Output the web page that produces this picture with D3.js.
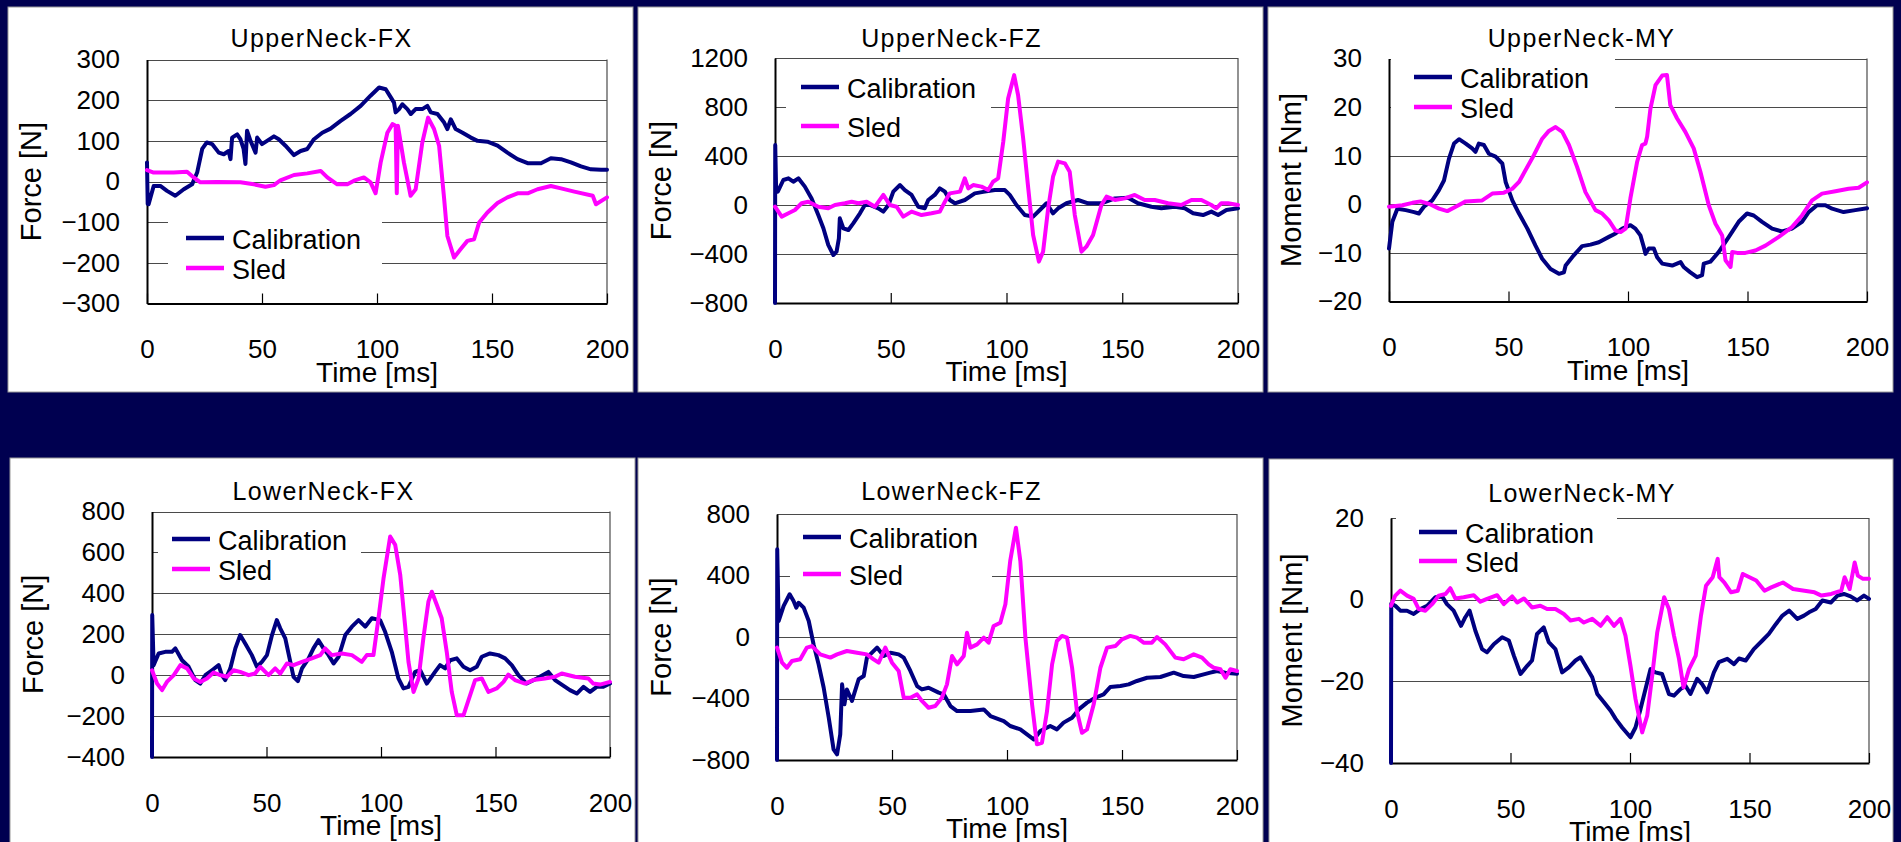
<!DOCTYPE html>
<html>
<head>
<meta charset="utf-8">
<script src="https://cdn.jsdelivr.net/npm/d3@7"></script>
<style>
  body { margin: 0; background: #000050; overflow: hidden; }
  svg { display: block; }
  text { font-family: "Liberation Sans", Arial, sans-serif; fill: #000; }
</style>
</head>
<body>
<svg id="chart" width="1901" height="842"></svg>
<script>
// ---------------------------------------------------------------------------
// data : [time ms, value]
// ---------------------------------------------------------------------------

var timeTicks = [0, 50, 100, 150, 200];
var seriesNames = ["Calibration", "Sled"];

var upperFxTicks = [-300, -200, -100, 0, 100, 200, 300];
var upperFzTicks = [-800, -400, 0, 400, 800, 1200];
var upperMyTicks = [-20, -10, 0, 10, 20, 30];
var lowerFxTicks = [-400, -200, 0, 200, 400, 600, 800];
var lowerFzTicks = [-800, -400, 0, 400, 800];
var lowerMyTicks = [-40, -20, 0, 20];

var upperFxCal = [[0,47],[0.3,-55],[0.7,-56],[2.9,-11],[5.8,-11],[8.7,-23],[12.3,-35],[16,-19],[19.6,-7],[21.8,22],[24,80],[26,96],[28.3,92],[31.2,71],[33.4,67],[35.5,75],[36.3,55],[37,108],[39.2,116],[40.6,104],[42,80],[42.8,43],[43.5,125],[45,100],[47.2,71],[47.9,108],[50,92],[52.2,100],[55.2,111],[57.3,104],[60.2,88],[63.9,65],[66.8,75],[69.7,80],[72.6,104],[76.2,120],[79.8,130],[84.2,149],[88.5,166],[92.9,186],[97.2,211],[100.9,231],[103.8,227],[106,207],[107.4,194],[108.1,170],[109.6,178],[111,190],[113.2,178],[114.7,166],[116.8,178],[119.7,178],[121.9,186],[123.4,170],[126.3,166],[129.2,145],[130.6,129],[132.1,153],[134.2,129],[137.2,120],[140.8,108],[143.7,100],[148,98],[152.4,88],[156.7,71],[161.1,55],[165.5,45],[171.3,45],[175.6,57],[180,55],[184.3,47],[188.7,37],[193,30],[197.4,29],[200,29]];
var upperFxSled = [[0,28],[2.9,22],[11.6,22],[17.4,24],[20.3,10],[23.2,-2],[30.5,-1],[40.6,-2],[46.4,-7],[51.5,-13],[55.2,-9],[58,3],[63.9,16],[69.7,20],[75.5,26],[78.4,10],[82.7,-7],[87.1,-7],[90,2],[94.3,10],[97.2,-2],[99.4,-29],[101.6,47],[104.5,120],[106.7,141],[108.1,137],[108.6,-29],[109.1,137],[111.7,47],[114.6,-35],[116.8,-19],[119.7,96],[122.2,157],[124.8,129],[127,88],[129.2,-43],[130.6,-134],[133.5,-187],[136.4,-166],[139.3,-146],[142.2,-142],[144.4,-101],[148,-76],[152.4,-53],[156.7,-39],[161.1,-29],[165.5,-29],[169.8,-19],[175.6,-11],[180,-17],[185.8,-25],[193.8,-35],[195.2,-56],[200,-39]];

var upperFzCal = [[0,-800],[0.1,490],[0.5,110],[1.2,109],[3.6,204],[5.8,218],[7.9,190],[10.1,218],[12.9,150],[15.8,54],[18.7,-82],[20.9,-190],[23,-326],[25.2,-408],[26.6,-381],[27.6,-272],[28,-109],[29.5,-190],[31.7,-204],[33.8,-150],[36.7,-68],[38.8,0],[41,0],[44.6,-27],[46.8,-54],[49,0],[51.1,109],[54,163],[56.1,122],[59,82],[61.9,-14],[64.7,-27],[66.2,41],[69,82],[71.2,136],[73.4,109],[75.5,41],[77.7,14],[82,41],[86.3,95],[90.6,109],[95,122],[99.3,122],[101.4,82],[104.3,0],[107.9,-82],[111.5,-95],[114.4,-41],[117.3,14],[120.1,-68],[122.3,-27],[125.9,14],[130.9,41],[135.3,14],[141,14],[146.8,54],[152.5,60],[156.8,14],[162.6,-14],[166.9,-27],[172.7,-14],[177,-27],[180.6,-68],[184.9,-82],[188.5,-54],[191.4,-82],[195,-41],[200,-27]];
var upperFzSled = [[0,-14],[2.9,-95],[5.8,-68],[8.6,-41],[11.5,14],[14.4,27],[18.7,-14],[23,-27],[25.9,0],[30.2,14],[33.1,27],[36,14],[39.6,27],[43.2,-14],[46.8,82],[49.6,0],[52.5,-14],[55.4,-95],[59,-54],[63.3,-82],[67.6,-68],[71.2,-54],[73.4,27],[75.5,95],[79.9,109],[82,218],[83.5,136],[85.6,163],[89.2,150],[92.1,122],[94.2,190],[96.4,218],[98.6,517],[100.7,870],[103.3,1060],[105,898],[107.2,544],[109.4,136],[111.5,-245],[114,-462],[115.8,-381],[118,-27],[120.1,231],[122.3,354],[125.2,340],[127.3,272],[129.5,-82],[132.4,-381],[134.5,-340],[137.4,-245],[141,0],[143.2,68],[146.8,41],[151.1,54],[155.4,82],[159.7,41],[164,41],[169.8,14],[175.5,0],[179.9,41],[184.2,41],[188.5,0],[190.6,-27],[192.8,14],[195.7,14],[200,0]];

var upperMyCal = [[0,-9.1],[1.4,-3.6],[3.5,-0.9],[7,-1.2],[10.5,-1.6],[12.5,-1.9],[14.6,-0.5],[18.1,0.8],[20.9,2.9],[23,4.9],[25.1,9.4],[27.2,12.5],[29.3,13.4],[32.1,12.5],[34.8,11.5],[36.2,10.8],[37.6,12.5],[39.7,12.2],[41.8,10.4],[44.6,9.8],[47.4,8.4],[48.8,4.6],[51.6,0.8],[54.4,-1.9],[57.9,-5],[61.3,-8.5],[64.1,-11.2],[67.6,-13.3],[71.1,-14.3],[73.2,-14],[73.9,-12.6],[77.3,-10.5],[80.8,-8.6],[84.3,-8.3],[87.8,-7.8],[92,-6.7],[94.8,-6],[97.6,-5],[101,-4.3],[103.1,-5],[105.2,-6.4],[106.6,-8.8],[107.3,-10.2],[108.7,-9.1],[110.8,-9.1],[112.2,-10.9],[114.3,-12.2],[118.5,-12.6],[122,-11.9],[123.3,-12.9],[126.1,-14],[128.9,-15],[131,-14.6],[131.7,-12.2],[134.5,-11.8],[138,-9.8],[142.2,-6.7],[146.3,-3.6],[149.8,-1.9],[152.6,-2.3],[156.1,-3.6],[160.3,-5],[164.5,-5.6],[168.6,-5],[172.8,-3.6],[175.6,-1.6],[179.1,-0.2],[182.6,-0.2],[185.4,-0.9],[190.2,-1.6],[195.1,-1.2],[200,-0.8]];
var upperMySled = [[0,-0.5],[5.6,-0.2],[9.8,0.3],[13.2,0.6],[16.7,0.1],[20.9,-0.9],[24.4,-1.4],[27.9,-0.5],[32.1,0.6],[39,0.8],[43.2,2.2],[48.1,2.4],[51.6,3.2],[54.4,4.6],[57.1,7],[60.6,10.1],[64.1,13.5],[66.9,15.1],[69.7,15.9],[72.5,14.9],[75.3,12.2],[78.7,7.7],[82.2,2.5],[86.4,-1.2],[89.2,-1.9],[92,-3.3],[94.8,-5.4],[96.9,-5.7],[99,-5],[101,1.2],[103.8,8.7],[105.9,12.2],[107.3,12.5],[108,13.9],[109.4,19.7],[111.5,24.5],[114.3,26.5],[116.3,26.6],[117.7,20.4],[120.5,17.7],[124,14.9],[127.5,11.5],[130.3,6.7],[133.8,-0.2],[136.6,-4],[139.4,-6.4],[140.8,-11.5],[142.9,-12.9],[143.6,-9.8],[145.7,-10],[149.1,-10],[153.3,-9.5],[157.5,-8.5],[163.1,-6.7],[168.6,-4.7],[172.8,-2.3],[177,0.8],[181.2,2.2],[186.8,2.7],[192.3,3.2],[196.5,3.4],[200,4.5]];

var lowerFxCal = [[0,-400],[0.1,294],[0.7,49],[2.9,106],[5.8,114],[8.7,114],[10.2,131],[13.1,73],[16,41],[18.9,-24],[21.1,-41],[23.3,0],[26.2,24],[29.1,49],[30.5,0],[32,-24],[34.2,33],[36.4,131],[38.5,196],[40.7,155],[43.6,98],[45.8,41],[48,65],[50.2,98],[52.4,196],[54.5,269],[56,229],[58.2,180],[60.4,65],[61.8,-8],[63.7,-29],[65.5,33],[68.4,82],[70.5,131],[72.7,171],[74.9,131],[77.1,98],[79.3,57],[81.5,90],[84.4,196],[87.3,237],[90.2,269],[93.1,237],[96,278],[99.6,269],[101.8,212],[104.7,114],[107.6,-16],[109.8,-65],[112,-57],[114.9,16],[117.1,24],[120,-41],[123.6,16],[125.8,49],[128,33],[130.2,73],[133.1,82],[136,41],[138.9,24],[141.8,41],[144,90],[147.6,106],[151.3,98],[154.2,82],[157.1,49],[160,0],[163.6,-41],[168,-16],[173.1,16],[176,-24],[180.4,-57],[182.5,-73],[185.5,-90],[188.4,-57],[191.3,-82],[194.2,-57],[197.1,-57],[200,-41]];
var lowerFxSled = [[0,24],[2.2,-41],[4.4,-73],[6.5,-33],[9.5,0],[12.4,49],[15.3,33],[18.2,-16],[21.1,-33],[24,-16],[26.9,13],[29.8,0],[32.7,-8],[35.6,24],[38.5,16],[42.2,0],[45,8],[47.3,41],[50.9,0],[53.8,33],[56,8],[58.9,57],[61.8,49],[65.5,65],[69.8,82],[73.5,98],[75.6,131],[78.5,98],[82.9,106],[87.3,98],[91.6,65],[93.8,98],[96.7,98],[98.9,278],[101.1,473],[104,678],[106.2,637],[108.4,490],[110.5,245],[112,65],[114.2,-82],[116.4,-16],[118.5,180],[120.7,359],[122.2,408],[124.4,343],[126.5,278],[128.7,114],[130.9,-82],[133.1,-196],[136,-196],[138.2,-122],[141.1,-24],[144,-16],[146.9,-82],[150.5,-65],[153.5,-33],[155.6,3],[158.5,-24],[162.9,-41],[166.5,-24],[171.6,-16],[176,-8],[178.9,8],[184.7,-8],[190.5,-16],[192.7,-41],[195.6,-46],[200,-33]];

var lowerFzCal = [[0,-800],[0.1,570],[0.7,104],[2.9,202],[5.5,278],[7.2,234],[8.4,191],[9.4,223],[11.6,191],[13.8,104],[15.9,-48],[18.1,-178],[20.3,-330],[22.5,-525],[24.6,-731],[26.1,-764],[27.5,-633],[28.3,-308],[29.3,-438],[30.4,-341],[32.6,-416],[35.5,-275],[37.7,-254],[39.1,-134],[41.3,-102],[43.5,-69],[46.4,-124],[49.3,-102],[52.9,-113],[55.1,-134],[58,-221],[60.9,-319],[63,-341],[65.9,-330],[70.3,-362],[72.5,-373],[75.4,-449],[78.3,-482],[84.1,-482],[89.9,-471],[92.8,-514],[98.6,-547],[101.4,-579],[105.8,-601],[108.7,-633],[111.6,-666],[114.5,-612],[118.8,-579],[121.7,-601],[124.6,-557],[128.3,-525],[131.2,-471],[134.8,-427],[138.4,-395],[142,-373],[144.9,-325],[149.3,-319],[152.9,-308],[156.5,-286],[160.9,-265],[166.7,-260],[172.5,-232],[176.8,-254],[181.2,-260],[185.5,-243],[188.4,-232],[191.3,-221],[194.9,-232],[200,-239]];
var lowerFzSled = [[0,-69],[2.2,-167],[4.3,-200],[6.5,-156],[10.1,-145],[13,-69],[15.2,-59],[18.8,-113],[23.2,-134],[26.1,-113],[30.4,-91],[34.8,-102],[39.1,-113],[42,-145],[44.2,-167],[47.1,-69],[50,-167],[52.9,-221],[55.1,-395],[58,-395],[60.9,-373],[63,-416],[65.9,-460],[68.8,-449],[71.7,-395],[73.9,-308],[76.1,-124],[78.3,-178],[81.2,-124],[82.6,28],[84.1,-69],[87,-48],[89.9,-4],[92,-37],[94.2,72],[97.1,93],[99.3,213],[101.4,495],[103.9,711],[105.8,495],[108,-4],[110.9,-438],[113,-698],[115.2,-688],[117.4,-482],[119.6,-178],[121.7,-26],[123.9,7],[126.1,-4],[128.3,-200],[130.4,-482],[132.6,-623],[134.8,-601],[137.7,-438],[140.6,-200],[143.5,-69],[147.1,-59],[150,-15],[153.6,7],[156.5,-4],[159.4,-37],[163,-37],[165.2,0],[168.8,-48],[173.2,-134],[176.8,-145],[181.2,-113],[184.8,-134],[187.7,-178],[189.9,-200],[192.8,-210],[195,-265],[197.1,-210],[200,-221]];

var lowerMyCal = [[0,-40],[0.1,-1],[1.8,-1.5],[3.9,-2.7],[6.7,-2.7],[9.5,-3.5],[12.3,-2.3],[15.1,-1.5],[18.6,0.6],[21.4,0.8],[23.4,-1.1],[26.2,-2.7],[29.3,-6.4],[31.1,-4.3],[32.9,-2.7],[35.3,-7.6],[38.1,-12.1],[40.2,-12.9],[43,-10.9],[46.5,-9.2],[49.3,-10],[51.4,-13.7],[54.2,-18.2],[57,-16.2],[59,-14.9],[61.1,-8.4],[63.9,-6.8],[66,-10.4],[68.8,-12.1],[71.6,-17.8],[74.4,-16.6],[77.2,-14.9],[79.3,-14.1],[81.4,-16.2],[84.2,-19],[86.3,-23.1],[89.1,-25.1],[91.9,-27.2],[94,-29.2],[96.7,-31.3],[100.2,-33.7],[102.3,-31.3],[104.4,-26.8],[107.2,-20.2],[108.6,-17],[110.6,-17.8],[113.4,-18.2],[116.3,-23.1],[118.4,-23.5],[121.1,-21.9],[123.2,-21.1],[125.3,-23.1],[128.1,-19.4],[130.2,-20.7],[132.3,-22.7],[135.1,-17.8],[137.2,-15.3],[140.7,-14.5],[143.5,-15.8],[145.6,-14.4],[148.4,-14.9],[151.8,-12.1],[155.4,-10],[158.1,-8.4],[161,-6],[163.8,-3.9],[166.6,-2.7],[170,-4.7],[172.8,-3.9],[174.9,-3.1],[177.7,-2.3],[180.5,-0.2],[184,-0.7],[186.8,1],[189.5,1.4],[192.3,0.8],[195.1,-0.2],[197.9,1],[200,0.2]];
var lowerMySled = [[0,-1.5],[1.8,1],[3.9,2.2],[6.7,1],[9.5,0.2],[11.6,-2.3],[14.4,-2.7],[17.2,-1.1],[20,1],[22.8,1.4],[24.8,2.8],[26.9,0.3],[30.4,0.6],[34.6,1.1],[37.4,-0.5],[40.2,0.2],[44.4,1.1],[47.2,-1.1],[50.7,0.8],[52.8,-0.7],[55.6,0.3],[59,-1.9],[62.5,-1.5],[65.3,-2.3],[68.8,-2.3],[72.3,-3.5],[75.1,-5.1],[78.6,-4.7],[80.7,-5.6],[84.2,-4.7],[87.7,-6.4],[90.5,-4.3],[93.3,-6.4],[96,-4.7],[98.1,-8.8],[100.2,-16.2],[102.3,-24.3],[105.1,-32.5],[107.2,-28.4],[109.3,-18.6],[111.4,-8],[114.3,0.6],[116.3,-2.3],[118.4,-8.8],[120.5,-14.5],[122.4,-21.5],[124.7,-17],[127.5,-13.7],[129.7,-3.9],[131.8,3.4],[134.6,5.5],[136.7,10],[137.4,5.5],[139.5,4.2],[142.3,1.8],[145.1,2.2],[147.2,6.3],[150,5.5],[152.8,4.7],[156.3,2.2],[159.1,3],[164,4.2],[168.2,2.6],[173,2.2],[177.2,1.8],[180.1,1],[184.2,1.4],[188.4,2.2],[189.8,5.5],[191.9,2.6],[194,9.1],[195.3,5.9],[197.5,5.1],[200,5.1]];

// ---------------------------------------------------------------------------
// panel layout
// ---------------------------------------------------------------------------

var colors = { cal: "#000080", sled: "#ff00ff" };

var panels = [
  { title: "UpperNeck-FX", yLabel: "Force [N]",   ticks: upperFxTicks, cal: upperFxCal, sled: upperFxSled,
    frame: [8, 7, 625, 385],   plot: [147, 59.5, 607, 303.5],  titleY: 47,
    legend: { box: [168, 212, 214, 80], x: 186, rows: [238, 268] } },
  { title: "UpperNeck-FZ", yLabel: "Force [N]",   ticks: upperFzTicks, cal: upperFzCal, sled: upperFzSled,
    frame: [638, 7, 625, 385], plot: [775, 58, 1238, 303],     titleY: 47,
    legend: { box: [786, 66, 205, 84], x: 801, rows: [87, 126] } },
  { title: "UpperNeck-MY", yLabel: "Moment [Nm]", ticks: upperMyTicks, cal: upperMyCal, sled: upperMySled,
    frame: [1268, 7, 625, 385], plot: [1389, 58.5, 1867, 301.5], titleY: 47,
    legend: { box: [1391, 50, 224, 72], x: 1414, rows: [77, 107] } },
  { title: "LowerNeck-FX", yLabel: "Force [N]",   ticks: lowerFxTicks, cal: lowerFxCal, sled: lowerFxSled,
    frame: [10, 458, 625, 400], plot: [152, 511.5, 610, 757],  titleY: 500,
    legend: { box: [158, 520, 203, 70], x: 172, rows: [539, 569] } },
  { title: "LowerNeck-FZ", yLabel: "Force [N]",   ticks: lowerFzTicks, cal: lowerFzCal, sled: lowerFzSled,
    frame: [638, 458, 625, 400], plot: [777, 514, 1237, 760],  titleY: 500,
    legend: { box: [790, 520, 202, 71], x: 803, rows: [537, 574] } },
  { title: "LowerNeck-MY", yLabel: "Moment [Nm]", ticks: lowerMyTicks, cal: lowerMyCal, sled: lowerMySled,
    frame: [1269, 459, 624, 400], plot: [1391, 518, 1869, 763], titleY: 502,
    legend: { box: [1396, 510, 221, 74], x: 1419, rows: [532, 561] } }
];

var svg = d3.select("#chart");

function drawPanel(p, i) {
  var g = svg.append("g").attr("class", "panel");
  var left = p.plot[0], top = p.plot[1], right = p.plot[2], bottom = p.plot[3];

  // white frame
  g.append("rect")
    .attr("x", p.frame[0]).attr("y", p.frame[1])
    .attr("width", p.frame[2]).attr("height", p.frame[3])
    .attr("fill", "#fff")
    .attr("stroke", "#9a9a9a")
    .attr("stroke-width", 1);

  var x = d3.scaleLinear().domain([0, 200]).range([left, right]);
  var y = d3.scaleLinear().domain(d3.extent(p.ticks)).range([bottom, top]);

  // gridlines
  g.append("g").selectAll("line")
    .data(p.ticks.slice(1))
    .enter().append("line")
    .attr("x1", left).attr("x2", right)
    .attr("y1", function(d) { return Math.round(y(d)) + 0.5; })
    .attr("y2", function(d) { return Math.round(y(d)) + 0.5; })
    .attr("stroke", "#4a4a4a")
    .attr("stroke-width", 1.2);

  // right border
  g.append("line")
    .attr("x1", right).attr("x2", right).attr("y1", top).attr("y2", bottom)
    .attr("stroke", "#4a4a4a").attr("stroke-width", 1.2);

  // x axis with inside ticks
  var xAxis = d3.axisBottom(x)
    .tickValues(timeTicks)
    .tickSizeInner(-10)
    .tickSizeOuter(0)
    .tickPadding(36.5)
    .tickFormat(d3.format("d"));

  var xg = g.append("g")
    .attr("transform", "translate(0," + bottom + ")")
    .call(xAxis);
  xg.select(".domain").attr("stroke", "#000").attr("stroke-width", 2);
  xg.selectAll(".tick line").attr("stroke", "#000").attr("stroke-width", 1.2);
  xg.selectAll(".tick text")
    .attr("fill", "#000")
    .style("font-family", '"Liberation Sans", Arial, sans-serif')
    .style("font-size", "26px");

  // y axis labels
  var yAxis = d3.axisLeft(y)
    .tickValues(p.ticks)
    .tickSize(0)
    .tickPadding(27)
    .tickFormat(function(d) { return d < 0 ? "\u2212" + Math.abs(d) : d; });

  var yg = g.append("g")
    .attr("transform", "translate(" + left + ",0)")
    .call(yAxis);
  yg.select(".domain").attr("stroke", "#000").attr("stroke-width", 2);
  yg.selectAll(".tick text")
    .attr("fill", "#000")
    .style("font-family", '"Liberation Sans", Arial, sans-serif')
    .style("font-size", "26px");

  // legend box sits under the data
  g.append("rect")
    .attr("x", p.legend.box[0]).attr("y", p.legend.box[1])
    .attr("width", p.legend.box[2]).attr("height", p.legend.box[3])
    .attr("fill", "#fff");

  // clip
  var clipId = "clip-" + i;
  svg.append("clipPath").attr("id", clipId)
    .append("rect")
    .attr("x", left - 2).attr("y", top - 2)
    .attr("width", right - left + 4).attr("height", bottom - top + 4);

  var line = d3.line()
    .x(function(d) { return x(d[0]); })
    .y(function(d) { return y(d[1]); });

  var series = [
    { id: seriesNames[0], values: p.cal, color: colors.cal },
    { id: seriesNames[1], values: p.sled, color: colors.sled }
  ];

  g.append("g")
    .attr("clip-path", "url(#" + clipId + ")")
    .selectAll("path")
    .data(series)
    .enter().append("path")
    .attr("d", function(d) { return line(d.values); })
    .attr("fill", "none")
    .attr("stroke", function(d) { return d.color; })
    .attr("stroke-width", 4)
    .attr("stroke-linejoin", "round")
    .attr("stroke-linecap", "round");

  // legend entries
  var leg = g.append("g").selectAll("g")
    .data(series)
    .enter().append("g");

  leg.append("line")
    .attr("x1", p.legend.x).attr("x2", p.legend.x + 38)
    .attr("y1", function(d, k) { return p.legend.rows[k]; })
    .attr("y2", function(d, k) { return p.legend.rows[k]; })
    .attr("stroke", function(d) { return d.color; })
    .attr("stroke-width", 4.5);

  leg.append("text")
    .attr("x", p.legend.x + 46)
    .attr("y", function(d, k) { return p.legend.rows[k] + 11; })
    .style("font-size", "27px")
    .text(function(d) { return d.id; });

  // title
  g.append("text")
    .attr("x", p.frame[0] + p.frame[2] / 2 + 1)
    .attr("y", p.titleY)
    .attr("text-anchor", "middle")
    .style("font-size", "25px")
    .style("letter-spacing", "1.4px")
    .text(p.title);

  // axis titles
  g.append("text")
    .attr("x", (left + right) / 2)
    .attr("y", bottom + 78)
    .attr("text-anchor", "middle")
    .style("font-size", "28px")
    .text("Time [ms]");

  g.append("text")
    .attr("transform", "translate(" + (p.frame[0] + 33) + "," + ((top + bottom) / 2) + ") rotate(-90)")
    .attr("text-anchor", "middle")
    .style("font-size", "29px")
    .text(p.yLabel);
}

panels.forEach(drawPanel);
</script>
</body>
</html>
